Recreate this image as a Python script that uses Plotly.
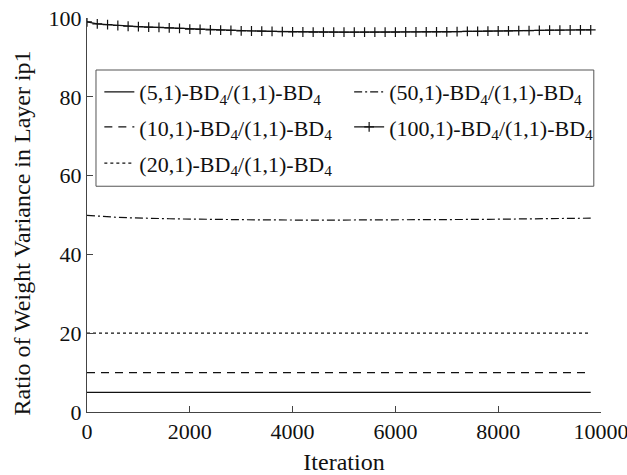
import plotly.graph_objects as go

# Iterations sampled every 200 steps
iterations = list(range(0, 10000, 200))
ends = [0, 9800]

ratio_5 = [5.0, 5.0]
ratio_10 = [10.0, 10.0]
ratio_20 = [20.0, 20.0]

ratio_50 = [49.9, 49.7, 49.5, 49.4, 49.3, 49.2, 49.15, 49.1, 49.05, 49.0,
            48.95, 48.9, 48.9, 48.85, 48.85, 48.8, 48.8, 48.75, 48.75, 48.7,
            48.7, 48.7, 48.7, 48.7, 48.7, 48.7, 48.7, 48.7, 48.7, 48.7,
            48.7, 48.72, 48.74, 48.76, 48.78, 48.8, 48.82, 48.85, 48.88, 48.9,
            48.95, 48.98, 49.0, 49.05, 49.08, 49.1, 49.12, 49.15, 49.18, 49.2]

ratio_100 = [99.0, 98.5, 98.3, 98.1, 97.9, 97.8, 97.7, 97.6, 97.5, 97.35,
             97.2, 97.1, 97.0, 96.9, 96.85, 96.75, 96.7, 96.65, 96.6, 96.55,
             96.5, 96.45, 96.4, 96.4, 96.4, 96.4, 96.4, 96.4, 96.4, 96.4,
             96.4, 96.45, 96.45, 96.5, 96.5, 96.5, 96.55, 96.6, 96.6, 96.65,
             96.7, 96.75, 96.8, 96.8, 96.85, 96.9, 96.9, 96.95, 97.0, 97.0]

x_ticks = [0, 2000, 4000, 6000, 8000, 10000]
y_ticks = [0, 20, 40, 60, 80, 100]

def label(k):
    return f"({k},1)-BD<sub>4</sub>/(1,1)-BD<sub>4</sub>"

FONT = "Liberation Serif, Times New Roman, serif"
BLACK = "#111111"
AXIS = "#444444"

fig = go.Figure()
fig.add_trace(go.Scatter(x=ends, y=ratio_5, mode="lines", name=label(5), legend="legend",
                         line=dict(color=BLACK, width=1.2)))
fig.add_trace(go.Scatter(x=ends, y=ratio_10, mode="lines", name=label(10), legend="legend2",
                         line=dict(color=BLACK, width=1.2, dash="8px,6px")))
fig.add_trace(go.Scatter(x=ends, y=ratio_20, mode="lines", name=label(20), legend="legend3",
                         line=dict(color=BLACK, width=1.2, dash="dot")))
fig.add_trace(go.Scatter(x=iterations, y=ratio_50, mode="lines", name=label(50), legend="legend4",
                         line=dict(color=BLACK, width=1.2, dash="8px,3px,2px,3px")))
fig.add_trace(go.Scatter(x=iterations, y=ratio_100, mode="lines+markers", name=label(100),
                         legend="legend5",
                         line=dict(color=BLACK, width=1.2),
                         marker=dict(symbol="cross-thin", size=7, color=BLACK,
                                     line=dict(width=1.2, color=BLACK))))

def legend_at(x, y):
    # one legend entry per box, placed in a two-column grid
    return dict(
        x=x, y=y, orientation="v", xanchor="left", yanchor="middle",
        bgcolor="rgba(0,0,0,0)", borderwidth=0,
        font=dict(family=FONT, size=22, color=BLACK),
        itemwidth=30, tracegroupgap=0,
    )

col1, col2 = 0.024, 0.51
rows = [0.812, 0.723, 0.631]

fig.update_layout(
    width=627, height=475,
    margin=dict(l=87, r=26, t=18, b=63),
    paper_bgcolor="white", plot_bgcolor="white",
    font=dict(family=FONT, size=22, color=BLACK),
    showlegend=True,
    legend=legend_at(col1, rows[0]),
    legend2=legend_at(col1, rows[1]),
    legend3=legend_at(col1, rows[2]),
    legend4=legend_at(col2, rows[0]),
    legend5=legend_at(col2, rows[1]),
    shapes=[dict(type="rect", xref="paper", yref="paper",
                 x0=0.0175, x1=0.986, y0=0.573, y1=0.868,
                 line=dict(color="#555555", width=1), fillcolor="white",
                 layer="below")],
    annotations=[dict(text="Ratio of Weight Variance in Layer ip1",
                      xref="paper", yref="paper", x=-0.127, y=0.455,
                      xanchor="center", yanchor="middle", textangle=-90,
                      showarrow=False, font=dict(family=FONT, size=24, color=BLACK))],
)
fig.update_xaxes(
    range=[0, 10000], tickvals=x_ticks, ticktext=[str(v) for v in x_ticks],
    showgrid=False, zeroline=False, showline=True, linecolor=AXIS, linewidth=1,
    ticks="inside", ticklen=6, tickcolor=AXIS, automargin=False,
    ticklabeloverflow="allow",
    title=dict(text="Iteration", font=dict(size=24), standoff=14),
    tickfont=dict(size=22),
)
fig.update_yaxes(
    range=[0, 100], tickvals=y_ticks, ticktext=[str(v) for v in y_ticks],
    showgrid=False, zeroline=False, showline=True, linecolor=AXIS, linewidth=1,
    ticks="inside", ticklen=6, tickcolor=AXIS, automargin=False,
    ticklabeloverflow="allow",
    tickfont=dict(size=22),
)

fig.write_html("out.html")
